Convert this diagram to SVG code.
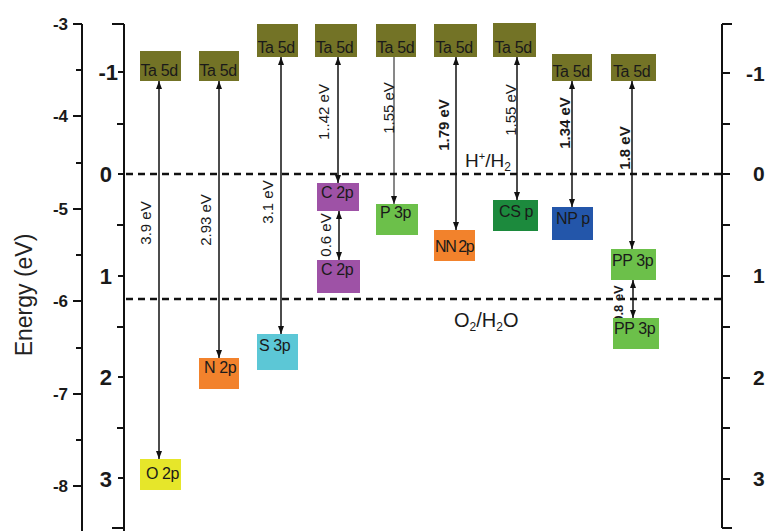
<svg xmlns="http://www.w3.org/2000/svg" width="767" height="531" viewBox="0 0 767 531">
<defs>
<marker id="ah" markerUnits="userSpaceOnUse" markerWidth="8" markerHeight="6" refX="8" refY="3" orient="auto-start-reverse">
<path d="M0,0 L8,3 L0,6 z" fill="#111"/>
</marker>
<style>
text{font-family:"Liberation Sans",Arial,sans-serif;fill:#1a1a1a}
.lbl{font-size:16px;letter-spacing:-0.4px}
.ev{font-size:15px;text-anchor:middle}
.evb{font-size:15px;text-anchor:middle;font-weight:bold}
.ta{fill:#737326}
.ax{stroke:#111;stroke-width:2;fill:none}
.tk{stroke:#111;stroke-width:2}
.dash{stroke:#111;stroke-width:2.4;stroke-dasharray:7 5;fill:none}
.arr{stroke:#111;stroke-width:1.5;fill:none;marker-start:url(#ah);marker-end:url(#ah)}
.l1{font-size:17px;font-weight:bold;text-anchor:end}
.l2{font-size:22px;font-weight:bold;text-anchor:end}
.l3{font-size:21px;font-weight:bold}
</style>
</defs>
<rect width="767" height="531" fill="#fff"/>

<!-- axes -->
<g id="axis-left">
<path class="ax" d="M82,24 V531"/>
<path class="tk" d="M73,24 H82 M73,116 H82 M73,209 H82 M73,301 H82 M73,394 H82 M73,486 H82 M76,70 H82 M76,163 H82 M76,255 H82 M76,348 H82 M76,440 H82"/>
<text class="l1" x="68" y="30">-3</text>
<text class="l1" x="68" y="122">-4</text>
<text class="l1" x="68" y="215">-5</text>
<text class="l1" x="68" y="307">-6</text>
<text class="l1" x="68" y="400">-7</text>
<text class="l1" x="68" y="492">-8</text>
<text transform="translate(32,295) rotate(-90)" style="font-size:23px;text-anchor:middle;fill:#222">Energy (eV)</text>
</g>
<g id="axis-mid">
<path class="ax" d="M124,24 V531"/>
<path class="tk" d="M112,24 H124 M118,72 H124 M117,124 H124 M118,174 H124 M117,225 H124 M118,276 H124 M117,327 H124 M118,377 H124 M117,428 H124 M118,478 H124 M112,528 H124"/>
<text class="l2" x="118" y="80">-1</text>
<text class="l2" x="112" y="182">0</text>
<text class="l2" x="112" y="284">1</text>
<text class="l2" x="112" y="385">2</text>
<text class="l2" x="112" y="487">3</text>
</g>
<g id="axis-right">
<path class="ax" d="M722,24 V528"/>
<path class="tk" d="M722,24 H732 M722,73 H730 M722,124 H730 M722,174 H730 M722,225 H730 M722,276 H730 M722,327 H730 M722,378 H730 M722,428 H730 M722,479 H730 M722,528 H732"/>
<text class="l3" x="746" y="81">-1</text>
<text class="l3" x="753" y="181">0</text>
<text class="l3" x="753" y="283">1</text>
<text class="l3" x="753" y="385">2</text>
<text class="l3" x="753" y="486">3</text>
</g>

<!-- reference potentials -->
<g id="potentials">
<path class="dash" d="M126,174 H722"/>
<path class="dash" d="M126,299 H722"/>
<text x="465" y="167" style="font-size:19px">H<tspan dy="-7" style="font-size:11px">+</tspan><tspan dy="7">/H</tspan><tspan dy="4" style="font-size:12px">2</tspan></text>
<text x="454" y="327" style="font-size:20px">O<tspan dy="4" style="font-size:12px">2</tspan><tspan dy="-4">/H</tspan><tspan dy="4" style="font-size:12px">2</tspan><tspan dy="-4">O</tspan></text>
</g>

<!-- energy labels (drawn before boxes) -->
<g id="gap-labels">
<text class="ev" transform="translate(151,223) rotate(-90)">3.9 eV</text>
<text class="ev" transform="translate(211,220) rotate(-90)">2.93 eV</text>
<text class="ev" transform="translate(273,202) rotate(-90)">3.1 eV</text>
<text class="ev" transform="translate(329,112) rotate(-90)">1..42 eV</text>
<text class="ev" transform="translate(331,235) rotate(-90)">0.6 eV</text>
<text class="ev" transform="translate(394,108) rotate(-90)">1.55 eV</text>
<text class="evb" transform="translate(449,125) rotate(-90)">1.79 eV</text>
<text class="ev" transform="translate(516,110) rotate(-90)">1.55 eV</text>
<text class="evb" transform="translate(570,123) rotate(-90)">1.34 eV</text>
<text class="evb" transform="translate(630,148) rotate(-90)">1.8 eV</text>
<text class="evb" style="font-size:13px" transform="translate(623,304) rotate(-90)">0.8 eV</text>
</g>

<!-- connectors -->
<g id="connectors">
<path class="arr" d="M159,81 V459"/>
<path class="arr" d="M219,81 V358"/>
<path class="arr" d="M281,57 V334"/>
<path class="arr" d="M338,57 V183"/>
<path class="arr" d="M339,211 V260"/>
<path d="M394,57 V204" stroke="#111" stroke-width="1" fill="none" marker-end="url(#ah)"/>
<path class="arr" d="M456,57 V230"/>
<path class="arr" d="M517,57 V200"/>
<path class="arr" d="M572,81 V207"/>
<path class="arr" d="M632,81 V249"/>
<path class="arr" d="M633,280 V318"/>
</g>

<!-- Ta 5d (conduction) levels -->
<g id="ta1"><rect class="ta" x="140" y="51" width="41" height="30"/><text class="lbl" x="140.5" y="76">Ta 5d</text></g>
<g id="ta2"><rect class="ta" x="199" y="51" width="40" height="30"/><text class="lbl" x="199.5" y="76">Ta 5d</text></g>
<g id="ta3"><rect class="ta" x="257" y="24" width="41" height="33"/><text class="lbl" x="257.5" y="53">Ta 5d</text></g>
<g id="ta4"><rect class="ta" x="315" y="24" width="42" height="33"/><text class="lbl" x="316" y="53">Ta 5d</text></g>
<g id="ta5"><rect class="ta" x="376" y="24" width="40" height="33"/><text class="lbl" x="377" y="53">Ta 5d</text></g>
<g id="ta6"><rect class="ta" x="434" y="24" width="43" height="33"/><text class="lbl" x="435.5" y="53">Ta 5d</text></g>
<g id="ta7"><rect class="ta" x="493" y="23" width="43" height="34"/><text class="lbl" x="494.5" y="53">Ta 5d</text></g>
<g id="ta8"><rect class="ta" x="552" y="54" width="40" height="27"/><text class="lbl" x="552.5" y="77">Ta 5d</text></g>
<g id="ta9"><rect class="ta" x="611" y="54" width="45" height="27"/><text class="lbl" x="613" y="77">Ta 5d</text></g>

<!-- valence levels -->
<g id="o2p"><rect x="140" y="459" width="41" height="31" fill="#e6e62a"/><text class="lbl" x="146" y="479">O 2p</text></g>
<g id="n2p"><rect x="199" y="358" width="40" height="31" fill="#f2822c"/><text class="lbl" x="204" y="373">N 2p</text></g>
<g id="s3p"><rect x="257" y="334" width="41" height="36" fill="#5cc7d6"/><text class="lbl" x="259" y="351">S 3p</text></g>
<g id="c2p-a"><rect x="317" y="183" width="42" height="28" fill="#9e52a6"/><text class="lbl" x="321" y="198">C 2p</text></g>
<g id="c2p-b"><rect x="317" y="260" width="43" height="33" fill="#9e52a6"/><text class="lbl" x="321" y="275">C 2p</text></g>
<g id="p3p"><rect x="376" y="204" width="42" height="31" fill="#6cc04a"/><text class="lbl" x="380" y="218">P 3p</text></g>
<g id="nn2p"><rect x="434" y="230" width="41" height="31" fill="#f2822c"/><text class="lbl" x="435" y="252" style="letter-spacing:-1.4px">NN 2p</text></g>
<g id="csp"><rect x="493" y="200" width="45" height="31" fill="#1c8a3d"/><text class="lbl" x="499" y="217">CS p</text></g>
<g id="npp"><rect x="552" y="207" width="41" height="33" fill="#2356aa"/><text class="lbl" x="556" y="224">NP p</text></g>
<g id="pp3p-a"><rect x="611" y="249" width="45" height="31" fill="#6cc04a"/><text class="lbl" x="612" y="266">PP 3p</text></g>
<g id="pp3p-b"><rect x="613" y="318" width="46" height="31" fill="#6cc04a"/><text class="lbl" x="614" y="334">PP 3p</text></g>
</svg>
